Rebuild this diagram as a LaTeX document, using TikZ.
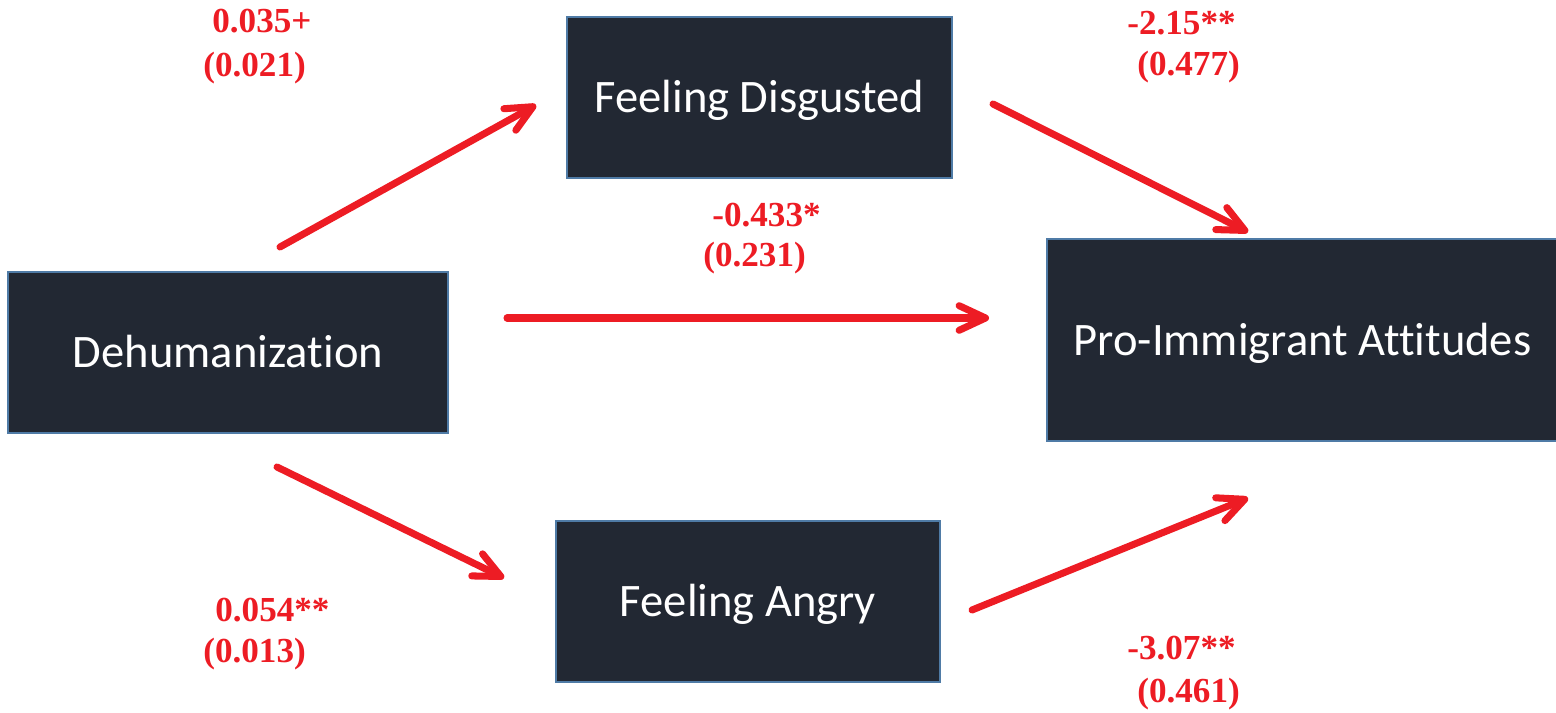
\documentclass[tikz,border=0pt]{standalone}
\usepackage{fontspec}
\usetikzlibrary{arrows.meta}
\newfontfamily\boxfont{Carlito}[Ligatures=NoCommon]
\newfontfamily\coeffont{Liberation Serif}
\definecolor{boxfill}{RGB}{34,40,51}
\definecolor{boxedge}{RGB}{79,123,166}
\definecolor{coefred}{RGB}{237,28,36}

\begin{document}
\begin{tikzpicture}[
    x=0.02cm, y=-0.02cm,
    box/.style={draw=boxedge, fill=boxfill, line width=1.4pt, text=white,
                inner sep=0pt, text height=17.1pt, text depth=0pt,
                font=\boxfont\fontsize{26.5}{30}\selectfont},
    coef/.style={anchor=base west, text=coefred, inner sep=0pt,
                 font=\coeffont\bfseries\fontsize{20}{24}\selectfont},
    link/.style={draw=coefred, line width=4pt, line cap=round,
                 -{Straight Barb[length=15pt, width=14pt, round]}}
  ]
  \useasboundingbox (0,0) rectangle (1556,713);

  % boxes
  \node[box, minimum width=8.8cm, minimum height=3.22cm] (dehum) at (228,352.5) {Dehumanization};
  \node[box, minimum width=7.7cm, minimum height=3.22cm] (disgust) at (759.5,97.5) {Feeling Disgusted};
  \node[box, minimum width=7.68cm, minimum height=3.22cm] (angry) at (748,601.5) {Feeling Angry};
  \node[box, minimum width=10.22cm, minimum height=4.04cm] (attitude) at (1302.5,340) {Pro-Immigrant Attitudes};

  % arrow ends
  \coordinate (d1) at (280,247);  \coordinate (d2) at (536,105);
  \coordinate (m1) at (507,318);  \coordinate (m2) at (989,318);
  \coordinate (a1) at (277,467);  \coordinate (a2) at (504,578);
  \coordinate (e1) at (993,104);  \coordinate (e2) at (1248,232);
  \coordinate (f1) at (972,610);  \coordinate (f2) at (1248,498);
  \foreach \s/\t in {d1/d2, m1/m2, a1/a2, e1/e2, f1/f2}
    \draw[link] (\s) -- (\t);

  % coefficients
  \node[coef] (c1a) at (212,33)   {0.035+};
  \node[coef] (c1b) at (203,77)   {(0.021)};
  \node[coef] (c2a) at (1127,35)  {-2.15**};
  \node[coef] (c2b) at (1137,76)  {(0.477)};
  \node[coef] (c3a) at (712,226)  {-0.433*};
  \node[coef] (c3b) at (703,266)  {(0.231)};
  \node[coef] (c4a) at (215,621)  {0.054**};
  \node[coef] (c4b) at (203,662)  {(0.013)};
  \node[coef] (c5a) at (1127,659) {-3.07**};
  \node[coef] (c5b) at (1137,702) {(0.461)};
\end{tikzpicture}
\end{document}
